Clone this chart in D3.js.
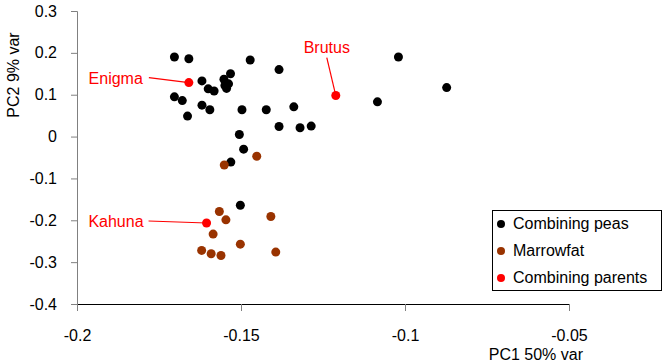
<!DOCTYPE html>
<html lang="en">
<head>
    <meta charset="UTF-8">
    <title>PCA scatter</title>
    <script src="https://d3js.org/d3.v7.min.js"></script>
    <style>
        body {
            margin: 0;
            background: #fff;
            font-family: Arial, "Liberation Sans", sans-serif;
        }
        .tick text {
            font-size: 16px;
            fill: #000;
        }
        .label {
            font-size: 16px;
            fill: #ff0000;
        }
    </style>
</head>
<body>
    <div id="chart"></div>

    <script>
        // PC1 / PC2 scores
        const peasPC1 = [-0.1703, -0.1659, -0.1619, -0.1600, -0.1582, -0.1552, -0.1532, -0.1549, -0.1538, -0.1544,
                         -0.1703, -0.1679, -0.1619, -0.1595, -0.1663, -0.1497, -0.1423, -0.1472, -0.1384, -0.1339,
                         -0.1384, -0.1320, -0.1286, -0.1505, -0.1492, -0.1531, -0.1502, -0.1020, -0.1084, -0.0873];
        const peasPC2 = [0.190, 0.186, 0.133, 0.114, 0.109, 0.137, 0.150, 0.122, 0.126, 0.115,
                         0.095, 0.086, 0.075, 0.064, 0.049, 0.064, 0.064, 0.183, 0.160, 0.071,
                         0.024, 0.021, 0.025, 0.005, -0.030, -0.061, -0.164, 0.190, 0.083, 0.117];

        const marrowPC1 = [-0.1452, -0.1551, -0.1566, -0.1546, -0.1409, -0.1585, -0.1502, -0.1620, -0.1591, -0.1561, -0.1394];
        const marrowPC2 = [-0.047, -0.068, -0.179, -0.199, -0.191, -0.233, -0.257, -0.272, -0.280, -0.284, -0.276];

        const parentNames = ["Enigma", "Brutus", "Kahuna"];
        const parentPC1 = [-0.1659, -0.1211, -0.1605];
        const parentPC2 = [0.129, 0.098, -0.2065];

        const xTicks = [-0.2, -0.15, -0.1, -0.05];
        const yTicks = [0.3, 0.2, 0.1, 0, -0.1, -0.2, -0.3, -0.4];
        const legendLabels = ["Combining peas", "Marrowfat", "Combining parents"];
        const colors = ["#000000", "#993300", "#ff0000"];

        // where the annotation text sits relative to its point (px)
        const labelOffsets = {
            Enigma: { tx: -46, ty: 1, anchor: "end", lx: -40, ly: -5 },
            Brutus: { tx: -9, ty: -43, anchor: "middle", lx: -9, ly: -38 },
            Kahuna: { tx: -63, ty: 4, anchor: "end", lx: -58, ly: -2 }
        };

        const width = 663;
        const height = 363;

        const svg = d3.select("#chart")
            .append("svg")
            .attr("width", width)
            .attr("height", height);

        const x = d3.scaleLinear().domain([-0.2, -0.05]).range([77, 569]);
        const y = d3.scaleLinear().domain([-0.4, 0.3]).range([304, 11]);

        const fmt = d => d === 0 ? "0" : String(d);

        // y axis (grey)
        const yAxis = svg.append("g")
            .attr("transform", `translate(${x(-0.2)},0)`)
            .call(d3.axisLeft(y).tickValues(yTicks).tickFormat(fmt).tickSize(6).tickPadding(14));
        yAxis.select(".domain").attr("stroke", "#808080");
        yAxis.selectAll(".tick line").attr("stroke", "#808080");
        yAxis.selectAll(".tick text").attr("font-family", "Arial, 'Liberation Sans', sans-serif");

        // x axis at the bottom
        const xAxis = svg.append("g")
            .attr("transform", `translate(0,${y(-0.4)})`)
            .call(d3.axisBottom(x).tickValues(xTicks).tickFormat(fmt).tickSize(7).tickPadding(19));
        xAxis.select(".domain").attr("stroke", "#000");
        xAxis.selectAll(".tick line").attr("stroke", "#808080");
        xAxis.selectAll(".tick text").attr("font-family", "Arial, 'Liberation Sans', sans-serif");

        // axis titles
        svg.append("text")
            .attr("x", 583)
            .attr("y", 360)
            .attr("text-anchor", "end")
            .attr("font-size", 16)
            .text("PC1 50% var");

        svg.append("text")
            .attr("transform", "translate(19,75) rotate(-90)")
            .attr("text-anchor", "middle")
            .attr("font-size", 16)
            .text("PC2 9% var");

        // points
        const groups = [
            { px: peasPC1, py: peasPC2, color: colors[0] },
            { px: marrowPC1, py: marrowPC2, color: colors[1] },
            { px: parentPC1, py: parentPC2, color: colors[2] }
        ];

        groups.forEach(g => {
            svg.append("g")
                .selectAll("circle")
                .data(g.px.map((v, i) => [v, g.py[i]]))
                .enter().append("circle")
                .attr("cx", d => x(d[0]))
                .attr("cy", d => y(d[1]))
                .attr("r", 4.5)
                .attr("fill", g.color);
        });

        // annotations for the parents
        const ann = svg.append("g");
        parentNames.forEach((name, i) => {
            const cx = x(parentPC1[i]);
            const cy = y(parentPC2[i]);
            const o = labelOffsets[name];
            ann.append("line")
                .attr("x1", cx + o.lx).attr("y1", cy + o.ly)
                .attr("x2", cx).attr("y2", cy)
                .attr("stroke", "#ff0000")
                .attr("stroke-width", 1.2);
            ann.append("text")
                .attr("class", "label")
                .attr("x", cx + o.tx)
                .attr("y", cy + o.ty)
                .attr("text-anchor", o.anchor)
                .text(name);
        });

        // legend
        const legend = svg.append("g").attr("transform", "translate(492,210)");
        legend.append("rect")
            .attr("x", 0.5).attr("y", 0.5)
            .attr("width", 169).attr("height", 80)
            .attr("fill", "#fff")
            .attr("stroke", "#000");

        legendLabels.forEach((lab, i) => {
            const row = legend.append("g").attr("transform", `translate(0,${14 + i * 27})`);
            row.append("circle")
                .attr("cx", 9)
                .attr("cy", 0)
                .attr("r", 4)
                .attr("fill", colors[i]);
            row.append("text")
                .attr("x", 21)
                .attr("y", 5)
                .attr("font-size", 16)
                .text(lab);
        });
    </script>
</body>
</html>
